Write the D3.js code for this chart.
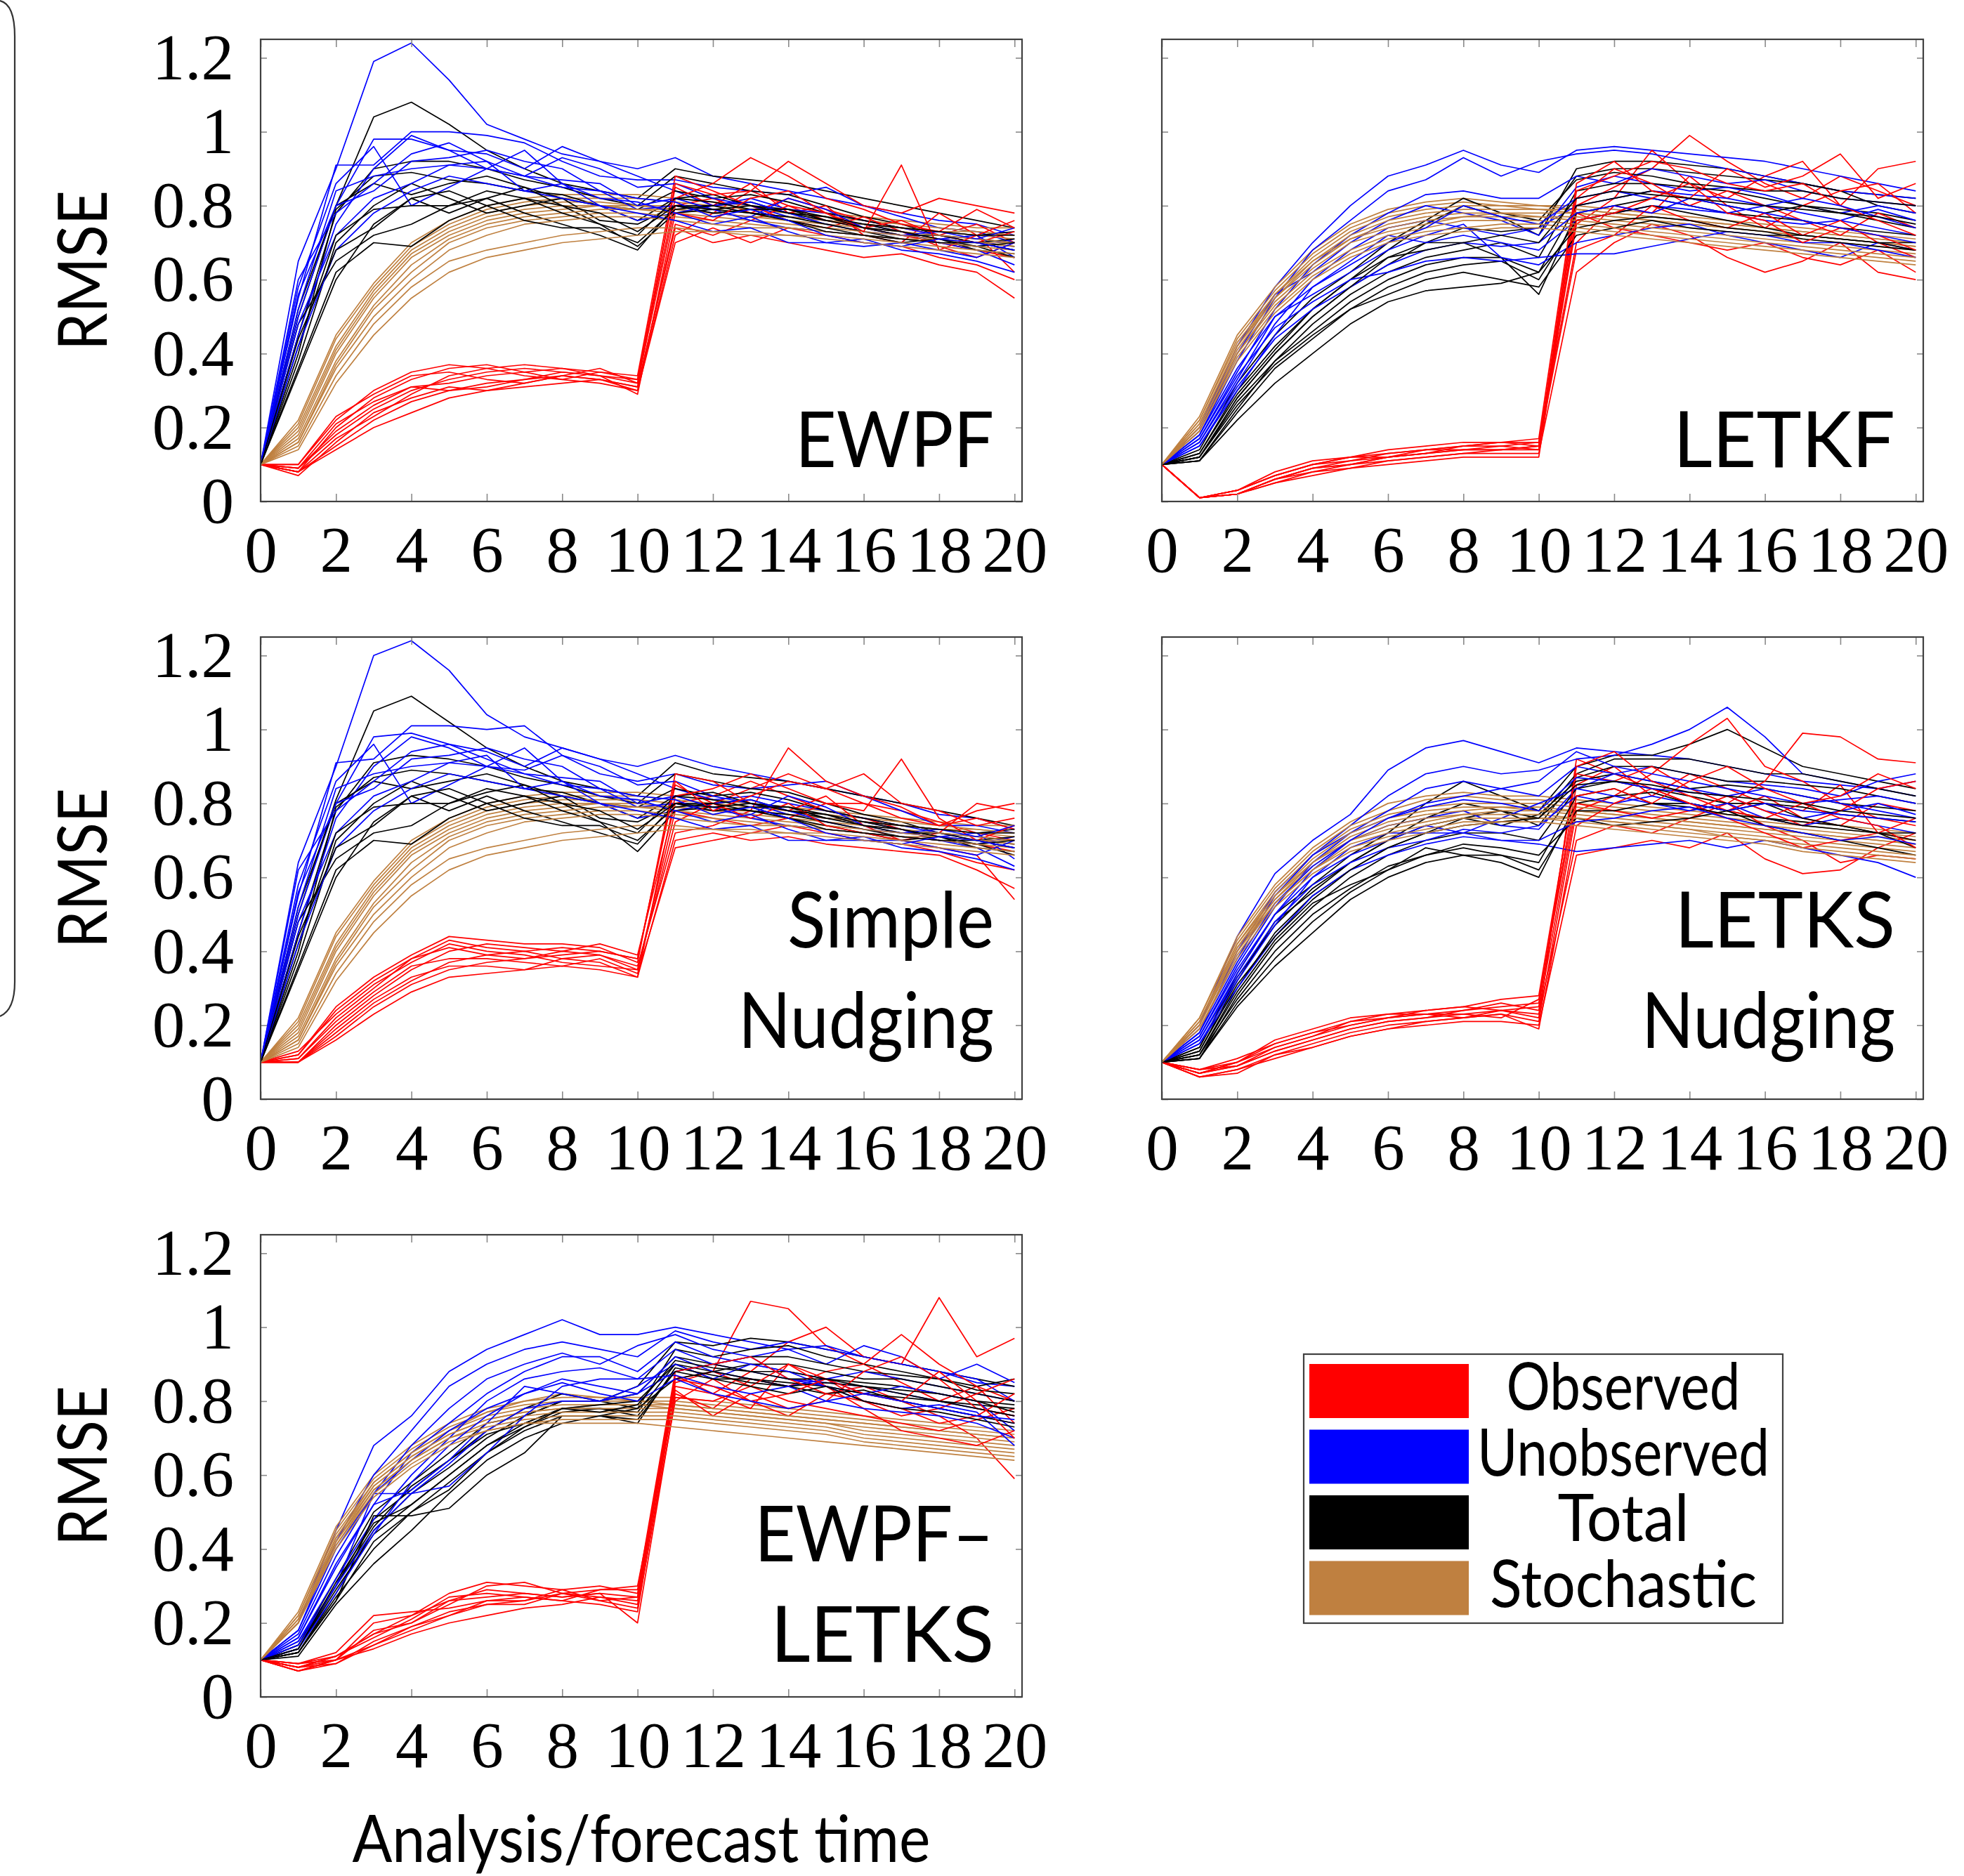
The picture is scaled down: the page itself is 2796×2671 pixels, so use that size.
<!DOCTYPE html>
<html><head><meta charset="utf-8">
<script src="https://cdn.jsdelivr.net/npm/d3@7"></script>
<style>body{margin:0;background:#fff} svg{display:block}</style>
</head><body>
<script>
const times = [0,1,2,3,4,5,6,7,8,9,10,11,12,13,14,15,16,17,18,19,20];
const xTicks = [0,2,4,6,8,10,12,14,16,18,20];
const yTicks = [0,0.2,0.4,0.6,0.8,1,1.2];
const yTickLabels = ["0","0.2","0.4","0.6","0.8","1","1.2"];
const seriesNames = ["Observed","Unobserved","Total","Stochastic"];
const seriesColors = ["#ff0000","#0000ff","#000000","#bf8040"];

// ---- EWPF ----
const ewpfObs = [
[.10,.08,.15,.22,.27,.30,.32,.33,.34,.33,.30,.72,.78,.84,.80,.76,.74,.72,.70,.68,.66],
[.10,.09,.18,.25,.30,.33,.35,.36,.35,.34,.32,.80,.82,.78,.82,.79,.76,.74,.72,.75,.70],
[.10,.08,.20,.28,.33,.36,.37,.35,.36,.34,.33,.85,.80,.86,.78,.80,.72,.70,.78,.72,.62],
[.10,.10,.22,.30,.35,.37,.36,.34,.33,.35,.34,.88,.84,.80,.76,.74,.77,.73,.69,.66,.70],
[.10,.07,.16,.24,.28,.31,.30,.32,.34,.33,.31,.75,.72,.76,.80,.78,.74,.76,.72,.70,.73],
[.10,.09,.19,.26,.31,.32,.34,.35,.33,.32,.30,.70,.74,.70,.74,.72,.70,.69,.66,.64,.60],
[.10,.08,.17,.23,.29,.34,.36,.37,.36,.35,.33,.82,.86,.93,.88,.82,.79,.75,.73,.79,.74],
[.10,.09,.21,.27,.31,.30,.31,.33,.35,.34,.29,.78,.76,.82,.84,.78,.73,.91,.68,.72,.76],
[.10,.08,.14,.20,.24,.28,.30,.31,.32,.33,.31,.74,.70,.72,.70,.68,.66,.67,.64,.62,.55],
[.10,.10,.23,.29,.34,.35,.33,.32,.34,.36,.32,.86,.83,.84,.92,.86,.80,.78,.82,.80,.78]];
const ewpfUnobs = [
[.10,.65,.90,1.19,1.24,1.14,1.02,.98,.94,.92,.90,.93,.88,.86,.84,.82,.80,.78,.76,.75,.72],
[.10,.55,.91,.91,1.00,1.00,.99,.97,.92,.88,.87,.87,.85,.84,.83,.85,.80,.77,.74,.73,.70],
[.10,.50,.80,.98,.98,.95,.94,.90,.96,.92,.88,.84,.80,.82,.79,.78,.76,.74,.72,.70,.68],
[.10,.45,.75,.90,.99,.95,.90,.88,.93,.90,.85,.86,.82,.80,.77,.76,.75,.73,.70,.69,.71],
[.10,.60,.78,.86,.94,.97,.92,.88,.85,.84,.79,.80,.78,.77,.82,.79,.74,.72,.71,.72,.66],
[.10,.52,.84,.88,.90,.91,.92,.84,.82,.80,.76,.78,.80,.81,.78,.75,.73,.72,.73,.71,.74],
[.10,.48,.72,.82,.86,.91,.90,.88,.87,.86,.80,.82,.79,.76,.74,.73,.72,.71,.70,.68,.64],
[.10,.58,.86,.96,.80,.85,.90,.95,.86,.82,.81,.78,.75,.77,.73,.70,.69,.70,.68,.66,.70],
[.10,.42,.68,.78,.84,.88,.86,.84,.86,.80,.78,.76,.73,.74,.70,.70,.71,.68,.67,.65,.62],
[.10,.56,.80,.84,.92,.93,.95,.92,.90,.84,.82,.81,.77,.79,.76,.72,.70,.69,.71,.70,.68]];
const ewpfTotal = [
[.10,.50,.80,1.04,1.08,1.02,.95,.90,.86,.84,.82,.90,.88,.87,.86,.84,.82,.80,.78,.76,.74],
[.10,.45,.78,.90,.92,.92,.90,.87,.85,.82,.80,.88,.86,.84,.83,.80,.77,.75,.72,.71,.70],
[.10,.40,.79,.88,.89,.87,.86,.84,.83,.80,.79,.84,.82,.83,.81,.78,.76,.74,.73,.72,.73],
[.10,.52,.80,.86,.83,.86,.88,.85,.82,.80,.76,.82,.83,.80,.79,.76,.75,.73,.71,.70,.69],
[.10,.38,.70,.80,.86,.82,.78,.80,.82,.76,.75,.80,.80,.81,.78,.76,.74,.72,.72,.70,.71],
[.10,.48,.65,.72,.75,.80,.82,.85,.80,.75,.69,.78,.79,.78,.77,.75,.73,.71,.70,.69,.66],
[.10,.35,.60,.75,.82,.78,.82,.78,.75,.72,.68,.80,.78,.79,.76,.74,.72,.70,.71,.68,.67],
[.10,.42,.72,.79,.80,.80,.84,.82,.78,.75,.72,.82,.81,.79,.79,.77,.74,.73,.71,.69,.70],
[.10,.44,.68,.74,.82,.84,.80,.76,.74,.74,.70,.79,.80,.78,.76,.73,.72,.71,.70,.70,.68],
[.10,.36,.62,.70,.69,.76,.80,.82,.80,.78,.73,.80,.79,.80,.78,.77,.75,.74,.73,.72,.72]];
const ewpfStoch = [
[.10,.22,.45,.59,.70,.76,.80,.82,.83,.83,.83,.82,.81,.80,.79,.78,.77,.76,.75,.74,.74],
[.10,.21,.44,.58,.69,.75,.79,.81,.82,.82,.82,.81,.80,.79,.78,.77,.76,.75,.74,.73,.72],
[.10,.20,.42,.57,.68,.74,.78,.80,.81,.81,.80,.80,.79,.78,.77,.76,.75,.74,.73,.73,.72],
[.10,.19,.41,.56,.67,.73,.77,.79,.80,.80,.80,.79,.78,.77,.77,.76,.75,.74,.73,.72,.71],
[.10,.18,.40,.55,.66,.72,.76,.78,.79,.80,.79,.79,.78,.77,.76,.75,.74,.73,.72,.71,.70],
[.10,.17,.38,.53,.64,.71,.75,.77,.78,.79,.79,.78,.77,.76,.75,.74,.73,.72,.71,.70,.70],
[.10,.16,.37,.52,.62,.70,.74,.76,.77,.78,.78,.77,.76,.75,.74,.73,.72,.71,.71,.70,.69],
[.10,.16,.36,.50,.60,.68,.72,.75,.76,.77,.77,.76,.75,.74,.74,.73,.72,.71,.70,.69,.68],
[.10,.15,.34,.48,.58,.65,.68,.70,.72,.73,.74,.74,.73,.73,.72,.72,.71,.70,.69,.68,.67],
[.10,.14,.32,.45,.55,.62,.66,.68,.70,.71,.72,.73,.73,.72,.72,.71,.70,.69,.68,.67,.66]];

// ---- LETKF ----
const letkfObs = [
[.10,.01,.02,.06,.09,.10,.12,.13,.14,.14,.14,.80,.85,.90,.99,.92,.86,.82,.88,.84,.80],
[.10,.01,.02,.05,.08,.10,.11,.12,.13,.14,.15,.75,.82,.95,.86,.82,.88,.92,.80,.90,.92],
[.10,.01,.03,.07,.10,.12,.13,.14,.15,.15,.16,.70,.80,.78,.88,.80,.74,.80,.84,.86,.78],
[.10,.01,.02,.06,.08,.09,.11,.12,.13,.13,.13,.62,.70,.75,.72,.66,.62,.65,.70,.62,.60],
[.10,.01,.03,.07,.10,.11,.13,.14,.14,.15,.14,.82,.90,.86,.80,.84,.80,.76,.72,.78,.74],
[.10,.01,.02,.05,.07,.09,.10,.11,.12,.12,.12,.78,.74,.72,.70,.68,.70,.66,.64,.68,.62],
[.10,.01,.03,.08,.11,.12,.12,.13,.15,.16,.15,.84,.88,.92,.90,.86,.84,.86,.80,.76,.72],
[.10,.01,.02,.06,.09,.10,.12,.13,.14,.14,.15,.68,.72,.80,.76,.74,.78,.72,.76,.70,.66],
[.10,.01,.02,.06,.09,.11,.12,.14,.15,.16,.17,.86,.92,.84,.82,.90,.85,.88,.94,.82,.86],
[.10,.01,.03,.07,.10,.12,.14,.15,.16,.16,.16,.76,.78,.82,.86,.78,.76,.70,.74,.72,.68]];
const letkfUnobs = [
[.10,.20,.42,.58,.70,.80,.88,.91,.95,.91,.89,.95,.96,.95,.94,.93,.92,.90,.88,.86,.84],
[.10,.18,.38,.55,.68,.76,.84,.87,.93,.88,.92,.94,.95,.94,.92,.90,.88,.86,.84,.83,.82],
[.10,.17,.35,.52,.64,.72,.78,.83,.84,.82,.82,.88,.86,.90,.88,.86,.87,.84,.82,.81,.80],
[.10,.19,.40,.56,.62,.70,.76,.80,.78,.76,.72,.85,.88,.86,.84,.85,.83,.80,.78,.80,.78],
[.10,.16,.32,.48,.60,.68,.74,.76,.74,.72,.74,.80,.82,.84,.83,.82,.80,.78,.76,.79,.76],
[.10,.15,.30,.45,.58,.65,.72,.70,.72,.70,.68,.76,.78,.80,.79,.78,.76,.75,.76,.74,.72],
[.10,.18,.36,.50,.56,.62,.68,.72,.75,.66,.64,.70,.72,.74,.75,.72,.70,.68,.66,.70,.68],
[.10,.17,.34,.47,.54,.60,.62,.65,.66,.65,.66,.67,.67,.69,.71,.73,.72,.70,.70,.68,.66],
[.10,.16,.33,.50,.58,.64,.70,.74,.80,.77,.75,.82,.84,.82,.80,.78,.80,.82,.80,.77,.74],
[.10,.15,.31,.44,.52,.58,.64,.68,.70,.69,.70,.78,.80,.78,.82,.80,.78,.76,.74,.72,.70]];
const letkfTotal = [
[.10,.13,.30,.42,.52,.60,.68,.75,.80,.77,.72,.90,.92,.92,.91,.90,.88,.86,.84,.83,.82],
[.10,.12,.28,.40,.50,.58,.64,.70,.74,.73,.74,.88,.90,.90,.89,.88,.87,.86,.84,.80,.78],
[.10,.14,.32,.45,.55,.62,.70,.76,.82,.78,.76,.87,.89,.88,.86,.85,.84,.84,.82,.81,.80],
[.10,.11,.25,.38,.48,.56,.62,.66,.68,.70,.66,.84,.86,.86,.85,.84,.82,.80,.79,.78,.76],
[.10,.13,.29,.41,.52,.60,.66,.70,.70,.66,.62,.80,.82,.84,.82,.80,.78,.80,.78,.76,.74],
[.10,.12,.27,.38,.46,.54,.60,.64,.66,.66,.56,.78,.80,.82,.80,.78,.77,.76,.74,.73,.72],
[.10,.11,.24,.36,.44,.52,.58,.62,.64,.65,.60,.76,.78,.80,.78,.76,.74,.72,.71,.70,.70],
[.10,.12,.26,.37,.45,.52,.56,.60,.62,.60,.58,.72,.74,.76,.74,.73,.72,.72,.71,.70,.68],
[.10,.11,.22,.32,.40,.48,.54,.57,.58,.59,.62,.74,.76,.77,.76,.74,.73,.71,.70,.69,.68],
[.10,.12,.28,.40,.50,.58,.66,.68,.70,.72,.70,.82,.84,.83,.82,.81,.80,.79,.78,.77,.75]];
const letkfStoch = [
[.10,.23,.45,.58,.68,.75,.79,.81,.82,.81,.80,.80,.79,.78,.77,.76,.75,.74,.73,.72,.71],
[.10,.22,.44,.57,.67,.74,.78,.80,.81,.80,.80,.79,.78,.77,.76,.75,.74,.73,.72,.71,.70],
[.10,.22,.43,.56,.66,.73,.77,.79,.80,.80,.79,.79,.78,.77,.76,.75,.74,.73,.72,.71,.70],
[.10,.21,.42,.56,.65,.72,.76,.78,.79,.79,.79,.78,.77,.76,.75,.74,.73,.72,.71,.70,.69],
[.10,.21,.42,.55,.65,.71,.75,.77,.78,.78,.78,.78,.77,.76,.75,.74,.73,.72,.71,.70,.69],
[.10,.20,.41,.55,.64,.71,.74,.76,.77,.78,.77,.77,.76,.75,.74,.73,.72,.71,.70,.69,.68],
[.10,.20,.40,.54,.63,.70,.73,.75,.77,.77,.77,.76,.75,.74,.73,.72,.71,.70,.69,.68,.67],
[.10,.20,.40,.53,.62,.68,.72,.74,.76,.76,.76,.75,.74,.73,.72,.71,.70,.69,.68,.67,.66],
[.10,.19,.39,.52,.61,.67,.71,.73,.74,.75,.75,.74,.73,.72,.71,.70,.69,.68,.67,.66,.65],
[.10,.19,.38,.51,.60,.66,.70,.72,.73,.74,.74,.73,.72,.71,.70,.69,.68,.67,.66,.65,.64]];

// ---- Simple Nudging ----
const nudgObs = [
[.10,.10,.20,.28,.35,.40,.42,.41,.40,.42,.39,.80,.82,.86,.82,.78,.76,.73,.70,.69,.67],
[.10,.11,.22,.30,.38,.43,.41,.40,.41,.40,.38,.85,.80,.84,.88,.84,.80,.78,.75,.72,.70],
[.10,.10,.18,.26,.32,.37,.39,.40,.38,.39,.36,.72,.74,.78,.95,.86,.82,.79,.74,.76,.73],
[.10,.12,.25,.33,.39,.44,.43,.42,.42,.41,.37,.88,.86,.80,.78,.82,.74,.70,.72,.80,.78],
[.10,.10,.17,.25,.31,.35,.37,.38,.40,.39,.35,.78,.76,.74,.76,.80,.78,.92,.76,.70,.74],
[.10,.11,.21,.29,.36,.38,.38,.37,.36,.38,.34,.68,.70,.72,.74,.72,.70,.69,.67,.64,.62],
[.10,.10,.19,.27,.33,.36,.36,.35,.38,.37,.33,.82,.84,.88,.84,.80,.80,.76,.74,.78,.80],
[.10,.13,.23,.31,.37,.42,.40,.39,.37,.36,.35,.75,.80,.76,.80,.74,.72,.70,.68,.66,.54],
[.10,.10,.16,.23,.29,.33,.34,.35,.36,.35,.33,.70,.72,.70,.71,.69,.68,.67,.66,.62,.57],
[.10,.12,.24,.32,.38,.41,.39,.38,.39,.40,.38,.86,.78,.82,.86,.84,.88,.80,.78,.74,.76]];
const nudgUnobs = [
[.10,.64,.90,1.20,1.24,1.16,1.04,.98,.95,.92,.90,.93,.90,.88,.86,.84,.82,.80,.77,.76,.73],
[.10,.55,.91,.92,1.01,1.01,1.00,1.01,.93,.88,.86,.88,.85,.84,.85,.86,.82,.78,.74,.74,.72],
[.10,.50,.80,.98,.99,.96,.94,.90,.95,.92,.88,.84,.81,.82,.80,.78,.76,.74,.72,.70,.68],
[.10,.45,.76,.90,.98,.95,.90,.89,.93,.90,.85,.86,.82,.80,.77,.76,.75,.73,.70,.69,.71],
[.10,.62,.78,.86,.94,.96,.92,.88,.85,.84,.79,.80,.78,.77,.82,.79,.74,.72,.71,.72,.65],
[.10,.52,.84,.88,.90,.91,.93,.84,.82,.80,.76,.78,.80,.81,.78,.75,.73,.72,.73,.71,.74],
[.10,.48,.72,.82,.86,.91,.90,.88,.87,.86,.80,.82,.79,.76,.74,.73,.72,.71,.70,.68,.63],
[.10,.58,.86,.96,.80,.85,.90,.95,.86,.82,.81,.78,.75,.77,.73,.70,.70,.70,.68,.66,.70],
[.10,.42,.68,.78,.84,.88,.86,.84,.86,.80,.78,.76,.73,.74,.70,.70,.71,.68,.67,.65,.62],
[.10,.56,.80,.84,.92,.93,.95,.92,.90,.84,.82,.81,.77,.79,.76,.72,.70,.69,.71,.70,.68]];
const nudgTotal = [
[.10,.50,.81,1.05,1.09,1.02,.95,.90,.86,.84,.82,.91,.88,.87,.86,.84,.82,.80,.78,.76,.74],
[.10,.45,.78,.91,.93,.92,.90,.87,.85,.82,.80,.88,.86,.84,.83,.80,.77,.75,.72,.71,.70],
[.10,.40,.79,.87,.89,.88,.86,.84,.83,.80,.79,.84,.82,.83,.81,.78,.76,.74,.73,.72,.73],
[.10,.52,.80,.86,.84,.86,.88,.85,.82,.80,.76,.82,.83,.80,.79,.76,.75,.73,.71,.70,.69],
[.10,.38,.70,.80,.86,.82,.78,.80,.82,.76,.75,.80,.80,.81,.78,.76,.74,.72,.72,.70,.71],
[.10,.48,.65,.72,.74,.80,.83,.85,.80,.75,.67,.78,.79,.78,.77,.75,.73,.71,.70,.69,.66],
[.10,.35,.60,.75,.82,.78,.82,.78,.75,.72,.69,.80,.78,.79,.76,.74,.72,.70,.71,.68,.67],
[.10,.42,.72,.79,.80,.80,.84,.82,.78,.75,.72,.82,.81,.79,.79,.77,.74,.73,.71,.69,.70],
[.10,.44,.68,.74,.82,.84,.80,.76,.74,.74,.70,.79,.80,.78,.76,.73,.72,.71,.70,.70,.68],
[.10,.36,.62,.70,.69,.76,.80,.82,.80,.78,.73,.80,.79,.80,.78,.77,.75,.74,.73,.72,.72]];
const nudgStoch = [
[.10,.22,.45,.59,.70,.76,.80,.82,.83,.83,.83,.82,.81,.80,.79,.78,.77,.76,.75,.74,.74],
[.10,.21,.44,.58,.69,.75,.79,.81,.82,.82,.82,.81,.80,.79,.78,.77,.76,.75,.74,.73,.72],
[.10,.20,.42,.57,.68,.74,.78,.80,.81,.81,.81,.80,.79,.78,.77,.76,.75,.74,.73,.73,.72],
[.10,.19,.41,.56,.67,.73,.77,.79,.80,.80,.80,.79,.78,.78,.77,.76,.75,.74,.73,.72,.71],
[.10,.18,.40,.55,.66,.72,.76,.78,.79,.80,.79,.79,.78,.77,.76,.75,.74,.73,.72,.71,.70],
[.10,.17,.38,.53,.64,.71,.75,.77,.78,.79,.79,.78,.77,.76,.75,.74,.73,.72,.71,.70,.70],
[.10,.16,.37,.52,.62,.70,.74,.76,.77,.78,.78,.77,.76,.75,.74,.73,.72,.71,.71,.70,.69],
[.10,.16,.36,.50,.60,.68,.72,.75,.76,.77,.77,.76,.75,.74,.74,.73,.72,.71,.70,.69,.68],
[.10,.15,.34,.48,.58,.65,.68,.70,.72,.73,.74,.74,.73,.73,.72,.72,.71,.70,.69,.68,.67],
[.10,.14,.32,.45,.55,.62,.66,.68,.70,.71,.72,.73,.73,.72,.72,.71,.70,.69,.68,.67,.66]];

// ---- LETKS Nudging ----
const letksObs = [
[.10,.08,.09,.13,.16,.19,.21,.22,.23,.24,.22,.92,.88,.84,.80,.78,.82,.76,.74,.80,.78],
[.10,.07,.10,.15,.18,.20,.22,.23,.24,.25,.26,.85,.90,.82,.88,.84,.80,.78,.85,.72,.70],
[.10,.06,.08,.12,.14,.17,.19,.21,.22,.23,.21,.78,.82,.88,.96,1.03,.90,.86,.80,.76,.74],
[.10,.07,.09,.14,.17,.21,.23,.24,.25,.27,.28,.88,.86,.90,.84,.80,.86,.99,.98,.92,.91],
[.10,.08,.10,.16,.19,.22,.23,.23,.22,.24,.23,.70,.74,.72,.76,.80,.74,.70,.64,.66,.65],
[.10,.06,.08,.11,.14,.17,.19,.20,.21,.21,.20,.66,.68,.70,.68,.72,.65,.61,.62,.68,.72],
[.10,.07,.09,.13,.16,.19,.21,.22,.24,.26,.24,.80,.78,.76,.78,.82,.78,.74,.78,.84,.86],
[.10,.08,.11,.15,.18,.21,.22,.24,.25,.24,.25,.90,.94,.86,.82,.78,.76,.80,.76,.74,.68],
[.10,.06,.07,.12,.15,.18,.20,.21,.22,.23,.19,.74,.80,.84,.80,.76,.72,.68,.70,.72,.76],
[.10,.07,.10,.14,.17,.20,.22,.23,.23,.22,.27,.82,.84,.80,.86,.90,.84,.80,.82,.88,.84]];
const letksUnobs = [
[.10,.20,.44,.61,.70,.77,.89,.95,.97,.94,.91,.95,.94,.93,.92,.90,.88,.86,.85,.84,.82],
[.10,.18,.40,.56,.66,.74,.82,.88,.90,.88,.89,.92,.93,.96,1.00,1.06,.98,.88,.86,.84,.86],
[.10,.17,.36,.52,.64,.72,.78,.84,.86,.84,.82,.90,.88,.90,.88,.86,.85,.84,.82,.86,.88],
[.10,.19,.38,.55,.66,.72,.76,.80,.82,.84,.86,.94,.90,.88,.86,.84,.82,.80,.81,.82,.80],
[.10,.16,.34,.50,.62,.70,.74,.76,.78,.74,.73,.84,.88,.86,.84,.82,.78,.76,.78,.80,.77],
[.10,.15,.32,.47,.60,.68,.72,.72,.72,.70,.69,.67,.68,.69,.70,.68,.70,.68,.66,.64,.60],
[.10,.17,.35,.50,.60,.66,.70,.74,.72,.76,.80,.84,.82,.80,.78,.80,.76,.74,.76,.74,.72],
[.10,.16,.33,.48,.58,.64,.68,.70,.73,.72,.74,.82,.80,.82,.80,.78,.80,.78,.77,.76,.75],
[.10,.18,.37,.53,.63,.70,.76,.79,.81,.80,.78,.87,.86,.84,.83,.82,.84,.82,.80,.78,.76],
[.10,.15,.30,.44,.55,.62,.66,.69,.71,.70,.70,.75,.76,.78,.79,.76,.74,.72,.70,.71,.69]];
const letksTotal = [
[.10,.14,.34,.50,.58,.66,.72,.80,.86,.82,.78,.90,.93,.93,.96,1.00,.95,.90,.88,.86,.84],
[.10,.13,.32,.48,.56,.64,.70,.76,.80,.78,.76,.88,.92,.92,.92,.90,.88,.88,.86,.84,.82],
[.10,.12,.30,.45,.55,.62,.68,.72,.76,.78,.74,.87,.90,.90,.88,.86,.86,.85,.84,.82,.80],
[.10,.14,.33,.47,.57,.64,.70,.74,.76,.74,.77,.86,.88,.86,.84,.85,.84,.82,.80,.79,.78],
[.10,.11,.28,.42,.52,.60,.66,.70,.72,.72,.70,.84,.86,.84,.82,.80,.80,.79,.77,.76,.75],
[.10,.12,.29,.43,.53,.58,.62,.68,.66,.64,.60,.80,.82,.83,.80,.78,.76,.75,.74,.72,.70],
[.10,.11,.26,.38,.48,.56,.62,.66,.68,.66,.62,.78,.78,.80,.80,.78,.80,.76,.74,.72,.68],
[.10,.12,.27,.40,.50,.57,.63,.66,.69,.68,.66,.76,.74,.75,.76,.78,.74,.72,.70,.68,.66],
[.10,.11,.25,.36,.45,.54,.60,.64,.66,.66,.64,.82,.84,.80,.79,.77,.76,.74,.73,.72,.72],
[.10,.13,.31,.44,.54,.62,.68,.72,.74,.75,.76,.85,.86,.85,.83,.82,.81,.80,.78,.77,.76]];
const letksStoch = [
[.10,.22,.44,.58,.68,.75,.80,.82,.83,.82,.82,.81,.80,.79,.78,.77,.76,.75,.74,.73,.72],
[.10,.22,.43,.57,.67,.74,.78,.81,.82,.81,.81,.80,.79,.78,.77,.76,.75,.74,.73,.72,.71],
[.10,.21,.42,.56,.66,.73,.77,.79,.80,.80,.80,.79,.78,.77,.76,.75,.74,.73,.72,.71,.70],
[.10,.21,.42,.55,.65,.72,.76,.78,.79,.79,.79,.78,.77,.76,.75,.74,.73,.72,.71,.70,.69],
[.10,.21,.41,.55,.64,.71,.75,.77,.78,.79,.78,.78,.77,.76,.75,.74,.73,.72,.71,.70,.69],
[.10,.20,.41,.54,.64,.70,.74,.76,.77,.78,.78,.77,.76,.75,.74,.73,.72,.71,.70,.69,.68],
[.10,.20,.40,.54,.63,.70,.73,.75,.77,.77,.77,.76,.75,.74,.73,.72,.71,.70,.69,.68,.67],
[.10,.20,.40,.53,.62,.69,.72,.74,.76,.76,.76,.76,.75,.74,.73,.71,.70,.69,.68,.67,.66],
[.10,.19,.39,.53,.62,.68,.71,.73,.75,.75,.76,.75,.74,.73,.72,.71,.70,.68,.67,.66,.65],
[.10,.19,.38,.52,.61,.67,.70,.72,.74,.75,.75,.74,.73,.72,.71,.70,.69,.67,.66,.65,.64]];

// ---- EWPF-LETKS ----
const hybObs = [
[.10,.08,.10,.20,.22,.26,.27,.28,.27,.28,.27,.86,.88,1.07,1.05,.95,.90,.85,.80,.84,.80],
[.10,.09,.11,.17,.20,.25,.30,.31,.28,.27,.25,.84,.82,.88,.96,1.00,.92,.90,1.08,.92,.97],
[.10,.07,.10,.14,.18,.22,.26,.27,.26,.29,.30,.82,.78,.86,.84,.88,.90,.98,.90,.84,.74],
[.10,.08,.09,.15,.19,.23,.25,.25,.28,.26,.24,.80,.86,.80,.76,.82,.84,.80,.76,.70,.59],
[.10,.09,.12,.22,.23,.24,.26,.26,.29,.30,.28,.87,.82,.78,.90,.86,.80,.76,.78,.82,.86],
[.10,.07,.10,.13,.17,.20,.22,.24,.25,.27,.26,.85,.88,.84,.80,.78,.76,.74,.72,.75,.78],
[.10,.08,.11,.16,.21,.27,.28,.27,.26,.25,.23,.83,.76,.82,.78,.80,.88,.92,.86,.78,.76],
[.10,.09,.10,.18,.20,.26,.29,.28,.27,.28,.20,.81,.80,.84,.90,.84,.78,.72,.70,.68,.72],
[.10,.07,.09,.14,.19,.22,.25,.26,.28,.29,.29,.88,.90,.92,.86,.82,.80,.78,.74,.76,.82],
[.10,.08,.11,.17,.22,.28,.31,.30,.29,.26,.27,.86,.84,.80,.82,.86,.82,.80,.88,.80,.70]];
const hybUnobs = [
[.10,.20,.45,.68,.76,.88,.94,.98,1.02,.98,.98,1.00,.98,.96,.94,.95,.92,.90,.88,.85,.84],
[.10,.18,.42,.60,.72,.84,.90,.94,.96,.94,.92,.99,.96,.94,.96,.94,.92,.90,.88,.86,.80],
[.10,.17,.38,.55,.68,.78,.86,.90,.93,.90,.95,.98,.94,.92,.94,.90,.95,.92,.86,.90,.85],
[.10,.16,.35,.52,.66,.74,.82,.88,.92,.92,.88,.96,.92,.90,.88,.86,.88,.86,.84,.82,.80],
[.10,.15,.32,.48,.60,.70,.80,.86,.88,.89,.86,.94,.90,.88,.86,.85,.84,.82,.80,.78,.76],
[.10,.18,.40,.55,.64,.72,.78,.82,.86,.84,.82,.92,.88,.86,.84,.86,.82,.80,.78,.76,.74],
[.10,.16,.36,.52,.56,.64,.74,.84,.82,.80,.84,.90,.86,.90,.88,.84,.82,.84,.82,.80,.72],
[.10,.14,.30,.45,.55,.63,.72,.78,.80,.80,.82,.88,.90,.92,.86,.84,.80,.78,.79,.77,.68],
[.10,.15,.30,.55,.55,.57,.66,.76,.84,.86,.86,.87,.84,.82,.84,.80,.78,.77,.76,.74,.70],
[.10,.13,.28,.44,.58,.68,.76,.82,.85,.82,.80,.86,.82,.80,.78,.80,.82,.80,.78,.76,.75]];
const hybTotal = [
[.10,.14,.32,.50,.58,.66,.74,.76,.80,.80,.84,.96,.95,.97,.96,.94,.92,.90,.88,.86,.84],
[.10,.13,.30,.48,.56,.64,.72,.78,.82,.80,.78,.94,.92,.94,.95,.92,.90,.88,.86,.84,.86],
[.10,.12,.28,.45,.55,.62,.70,.76,.80,.80,.82,.92,.90,.92,.92,.90,.88,.87,.86,.83,.82],
[.10,.14,.30,.46,.57,.64,.71,.74,.78,.78,.77,.90,.88,.90,.90,.88,.86,.86,.84,.82,.80],
[.10,.12,.26,.42,.50,.56,.66,.73,.77,.78,.76,.88,.90,.88,.88,.86,.85,.84,.82,.80,.79],
[.10,.13,.29,.44,.52,.60,.68,.74,.78,.79,.80,.90,.86,.86,.84,.85,.84,.82,.80,.79,.78],
[.10,.12,.26,.49,.49,.51,.60,.66,.76,.76,.78,.86,.88,.86,.85,.84,.82,.81,.80,.78,.76],
[.10,.12,.27,.40,.50,.58,.66,.72,.76,.76,.74,.89,.87,.85,.84,.82,.83,.80,.78,.76,.74],
[.10,.11,.25,.36,.45,.55,.64,.70,.74,.76,.75,.88,.86,.84,.82,.84,.80,.78,.77,.75,.73],
[.10,.13,.31,.47,.52,.60,.68,.73,.78,.77,.79,.91,.89,.88,.86,.86,.84,.83,.82,.80,.77]];
const hybStoch = [
[.10,.23,.46,.60,.68,.74,.78,.80,.82,.81,.81,.81,.80,.79,.78,.77,.76,.75,.74,.73,.72],
[.10,.22,.45,.59,.67,.73,.77,.80,.81,.81,.80,.80,.79,.78,.77,.76,.75,.74,.73,.72,.71],
[.10,.22,.44,.58,.66,.72,.77,.79,.80,.80,.80,.79,.78,.77,.76,.75,.74,.73,.72,.71,.70],
[.10,.21,.43,.58,.66,.72,.76,.78,.79,.79,.79,.79,.78,.77,.76,.75,.74,.73,.72,.71,.70],
[.10,.21,.43,.57,.65,.71,.75,.77,.78,.79,.79,.78,.77,.76,.75,.74,.73,.72,.71,.70,.69],
[.10,.21,.42,.57,.65,.71,.75,.77,.78,.78,.78,.78,.77,.76,.75,.74,.72,.71,.70,.69,.68],
[.10,.20,.42,.56,.64,.70,.74,.76,.77,.77,.77,.77,.76,.75,.74,.73,.71,.70,.69,.68,.67],
[.10,.20,.41,.56,.64,.70,.73,.75,.76,.76,.76,.76,.75,.74,.73,.72,.70,.69,.68,.67,.66],
[.10,.20,.41,.55,.63,.69,.72,.74,.75,.75,.75,.75,.74,.73,.72,.71,.69,.68,.67,.66,.65],
[.10,.20,.40,.54,.62,.68,.72,.74,.74,.74,.74,.73,.72,.71,.70,.69,.68,.67,.66,.65,.64]];

// ---------------- drawing ----------------
const W = 2796, H = 2671;
const svg = d3.select("body").append("svg").attr("width", W).attr("height", H)
  .attr("viewBox", `0 0 ${W} ${H}`);
svg.append("rect").attr("width", W).attr("height", H).attr("fill", "#fff");

const colX = [371, 1654], rowY = [56, 907, 1758];
const pw = 1084, ph = 658;
const sansFont = "Lato, 'Open Sans', 'DejaVu Sans', sans-serif";
const serifFont = "'Liberation Serif', 'DejaVu Serif', serif";

const panels = [
  {col:0,row:0,data:[ewpfObs,ewpfUnobs,ewpfTotal,ewpfStoch],
   title:[{t:"EWPF",dy:-49,len:283}]},
  {col:1,row:0,data:[letkfObs,letkfUnobs,letkfTotal,letkfStoch],
   title:[{t:"LETKF",dy:-49,len:316}]},
  {col:0,row:1,data:[nudgObs,nudgUnobs,nudgTotal,nudgStoch],
   title:[{t:"Simple",dy:-216,len:294},{t:"Nudging",dy:-73,len:364}]},
  {col:1,row:1,data:[letksObs,letksUnobs,letksTotal,letksStoch],
   title:[{t:"LETKS",dy:-216,len:314},{t:"Nudging",dy:-73,len:361}]},
  {col:0,row:2,data:[hybObs,hybUnobs,hybTotal,hybStoch],
   title:[{t:"EWPF\u2013",dy:-193,len:341},{t:"LETKS",dy:-50,len:318}]}
];

const x = d3.scaleLinear().domain([0, 20.2]).range([0, pw]);
const y = d3.scaleLinear().domain([0, 1.25]).range([ph, 0]);
const line = d3.line().x((d, i) => x(times[i])).y(d => y(d));

panels.forEach(p => {
  const g = svg.append("g").attr("transform", `translate(${colX[p.col]},${rowY[p.row]})`);
  const nRuns = d3.max(p.data, s => s.length);
  for (let r = 0; r < nRuns; r++) {
    p.data.forEach((s, si) => {
      if (!s[r]) return;
      g.append("path").datum(s[r]).attr("d", line)
        .attr("fill", "none").attr("stroke", seriesColors[si])
        .attr("stroke-width", 1.7).attr("stroke-linejoin", "round");
    });
  }
  const styleAxis = sel => {
    sel.select(".domain").remove();
    sel.selectAll(".tick line").attr("stroke", "#8a8a8a").attr("stroke-width", 1.6);
    sel.selectAll(".tick text").attr("fill", "#000");
    sel.attr("font-family", serifFont).attr("font-size", 93);
  };
  g.append("g").attr("transform", `translate(0,${ph})`)
    .call(d3.axisBottom(x).tickValues(xTicks).tickSize(-11).tickPadding(34).tickFormat(d3.format("d")))
    .call(styleAxis);
  g.append("g")
    .call(d3.axisTop(x).tickValues(xTicks).tickSize(-11).tickFormat(""))
    .call(styleAxis);
  g.append("g")
    .call(d3.axisLeft(y).tickValues(yTicks).tickSize(-9).tickPadding(38)
      .tickFormat((d, i) => p.col === 0 ? yTickLabels[i] : ""))
    .call(styleAxis);
  g.append("g").attr("transform", `translate(${pw},0)`)
    .call(d3.axisRight(y).tickValues(yTicks).tickSize(-9).tickFormat(""))
    .call(styleAxis);
  g.append("rect").attr("width", pw).attr("height", ph)
    .attr("fill", "none").attr("stroke", "#404040").attr("stroke-width", 2.2);
  p.title.forEach(tt => {
    g.append("text").attr("x", pw - 40).attr("y", ph + tt.dy)
      .attr("text-anchor", "end").attr("font-family", sansFont).attr("font-size", 110)
      .attr("textLength", tt.len).attr("lengthAdjust", "spacingAndGlyphs")
      .text(tt.t);
  });
  if (p.col === 0) {
    svg.append("text")
      .attr("transform", `translate(152,${rowY[p.row] + ph / 2}) rotate(-90)`)
      .attr("text-anchor", "middle").attr("font-family", sansFont).attr("font-size", 97)
      .attr("textLength", 228).attr("lengthAdjust", "spacingAndGlyphs")
      .text("RMSE");
  }
});

// x-axis label
svg.append("text").attr("x", 913).attr("y", 2651).attr("text-anchor", "middle")
  .attr("font-family", sansFont).attr("font-size", 93)
  .attr("textLength", 823).attr("lengthAdjust", "spacingAndGlyphs")
  .text("Analysis/forecast time");

// legend
const lg = svg.append("g").attr("transform", "translate(1856,1928)");
lg.append("rect").attr("width", 682).attr("height", 383)
  .attr("fill", "#fff").attr("stroke", "#404040").attr("stroke-width", 2.2);
const legLens = [333, 416, 187, 380];
seriesNames.forEach((n, i) => {
  lg.append("rect").attr("x", 8).attr("y", 14 + i * 93.5).attr("width", 227).attr("height", 77)
    .attr("fill", seriesColors[i]);
  lg.append("text").attr("x", 455).attr("y", 79 + i * 93.5).attr("text-anchor", "middle")
    .attr("font-family", sansFont).attr("font-size", 94)
    .attr("textLength", legLens[i]).attr("lengthAdjust", "spacingAndGlyphs")
    .text(n);
});

// bracket on the left edge
svg.append("path")
  .attr("d", "M0,1 Q21,6 21,52 L21,1398 Q21,1438 0,1447")
  .attr("fill", "none").attr("stroke", "#333").attr("stroke-width", 2.2);
</script>
</body></html>
